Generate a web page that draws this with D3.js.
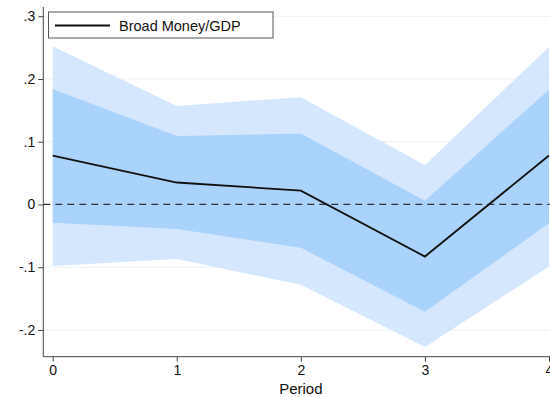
<!DOCTYPE html>
<html>
<head>
<meta charset="utf-8">
<script src="https://cdn.jsdelivr.net/npm/d3@7"></script>
<style>
  html, body { margin: 0; padding: 0; background: #fff; }
  svg { display: block; }
  text { font-family: "Liberation Sans", Arial, sans-serif; fill: #111; }
</style>
</head>
<body>
<svg id="chart" width="550" height="397"></svg>
<script>
// Impulse response of Broad Money/GDP with two confidence bands
const periods = [0, 1, 2, 3, 4];
const irf      = [0.078, 0.035, 0.022, -0.083, 0.078];
const innerLo  = [-0.029, -0.039, -0.069, -0.171, -0.030];
const innerHi  = [0.184, 0.109, 0.113, 0.006, 0.183];
const outerLo  = [-0.098, -0.087, -0.128, -0.227, -0.099];
const outerHi  = [0.252, 0.157, 0.171, 0.063, 0.251];
const yTicks   = [0.3, 0.2, 0.1, 0, -0.1, -0.2];
const yTickLabels = [".3", ".2", ".1", "0", "-.1", "-.2"];
const seriesName = "Broad Money/GDP";
const xTitle = "Period";

const svg = d3.select("#chart");

const x = d3.scaleLinear().domain([0, 4]).range([52.7, 549]);
const y = d3.scaleLinear().domain([-0.2426, 0.3147]).range([356.7, 7]);
const axisX = 43.3;
const fontSize = 14;

// faint horizontal grid lines
svg.append("g").selectAll("line").data(yTicks).join("line")
  .attr("x1", axisX).attr("x2", 550)
  .attr("y1", d => y(d)).attr("y2", d => y(d))
  .attr("stroke", "#eaf1f2").attr("stroke-width", 1);

const rows = periods.map((p, i) => ({ p, lo1: innerLo[i], hi1: innerHi[i], lo2: outerLo[i], hi2: outerHi[i], v: irf[i] }));

const outerArea = d3.area().x(d => x(d.p)).y0(d => y(d.lo2)).y1(d => y(d.hi2));
const innerArea = d3.area().x(d => x(d.p)).y0(d => y(d.lo1)).y1(d => y(d.hi1));

svg.append("path").datum(rows).attr("d", outerArea).attr("fill", "#d5e7fd");
svg.append("path").datum(rows).attr("d", innerArea).attr("fill", "#aad3fb");

// zero reference line
svg.append("line")
  .attr("x1", axisX).attr("x2", 550)
  .attr("y1", y(0)).attr("y2", y(0))
  .attr("stroke", "#333").attr("stroke-width", 1.3)
  .attr("stroke-dasharray", "7,5");

// response line
svg.append("path").datum(rows)
  .attr("d", d3.line().x(d => x(d.p)).y(d => y(d.v)))
  .attr("fill", "none").attr("stroke", "#111").attr("stroke-width", 1.8);

// y axis
const yAxis = d3.axisLeft(y).tickValues(yTicks)
  .tickFormat((d, i) => yTickLabels[i]).tickSize(5).tickPadding(3);
const gy = svg.append("g").attr("transform", `translate(${axisX},0)`).call(yAxis)
  .attr("font-size", fontSize).attr("font-family", "Liberation Sans, Arial, sans-serif");
gy.select(".domain").attr("d", `M0,${y.range()[1]}V${y.range()[0]}`).attr("stroke", "#444");
gy.selectAll(".tick line").attr("stroke", "#444");
gy.selectAll(".tick text").attr("fill", "#111");

// x axis
const xAxis = d3.axisBottom(x).tickValues(periods).tickFormat(d3.format("d")).tickSize(5).tickPadding(3);
const gx = svg.append("g").attr("transform", `translate(0,356.7)`).call(xAxis)
  .attr("font-size", fontSize).attr("font-family", "Liberation Sans, Arial, sans-serif");
gx.select(".domain").attr("d", `M${axisX},0H550`).attr("stroke", "#444");
gx.selectAll(".tick line").attr("stroke", "#444");
gx.selectAll(".tick text").attr("fill", "#111");

svg.append("text").attr("x", x(2)).attr("y", 394)
  .attr("text-anchor", "middle").attr("font-size", 15).text(xTitle);

// legend
const lg = svg.append("g");
lg.append("rect").attr("x", 48.5).attr("y", 12).attr("width", 224.5).attr("height", 26)
  .attr("fill", "#fff").attr("stroke", "#555").attr("stroke-width", 1);
lg.append("line").attr("x1", 55).attr("x2", 110).attr("y1", 25.5).attr("y2", 25.5)
  .attr("stroke", "#111").attr("stroke-width", 1.8);
lg.append("text").attr("x", 119).attr("y", 30.5).attr("font-size", 14.5).text(seriesName);
</script>
</body>
</html>
